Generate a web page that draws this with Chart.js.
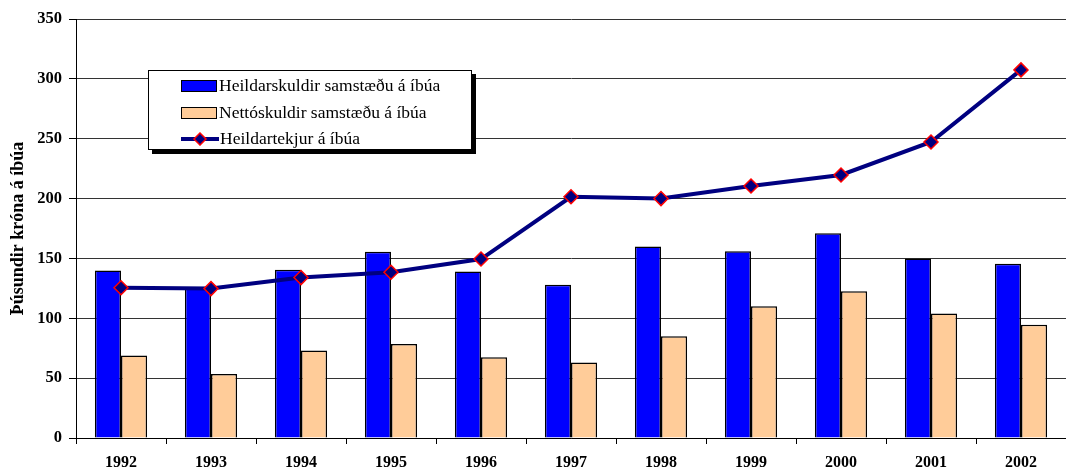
<!DOCTYPE html>
<html>
<head>
<meta charset="utf-8">
<script src="https://cdn.jsdelivr.net/npm/chart.js@4/dist/chart.umd.min.js"></script>
<style>
html,body{margin:0;padding:0;background:#fff;}
#wrap{position:relative;width:1066px;height:471px;}
#legend{position:absolute;left:148px;top:70px;width:322px;height:78px;border:1px solid #000;background:#fff;box-shadow:4px 4px 0 #000;font-family:"Liberation Serif","DejaVu Serif",serif;font-size:17.5px;color:#000;}
.row{position:absolute;left:32px;height:20px;line-height:20px;white-space:nowrap;}
.sw{display:inline-block;width:36px;height:12px;border:1px solid #000;vertical-align:middle;margin-right:2px;position:relative;top:-1px;box-sizing:border-box;}
.ln{display:inline-block;width:38px;height:14px;vertical-align:middle;margin-right:1px;position:relative;top:-1px;}
</style>
</head>
<body>
<div id="wrap">
<canvas id="c" width="1066" height="471"></canvas>
<div id="legend">
  <div class="row" style="top:4px"><span class="sw" style="background:#0000FF"></span>Heildarskuldir samstæðu á íbúa</div>
  <div class="row" style="top:31px"><span class="sw" style="background:#FFCC99"></span>Nettóskuldir samstæðu á íbúa</div>
  <div class="row" style="top:57px"><svg class="ln" viewBox="0 0 38 14"><line x1="0" y1="7" x2="38" y2="7" stroke="#000080" stroke-width="4"/><polygon points="19,1 25,7 19,13 13,7" fill="#000080" stroke="#FF0000" stroke-width="1.5"/></svg>Heildartekjur á íbúa</div>
</div>
</div>
<script>
const categories = ['1992','1993','1994','1995','1996','1997','1998','1999','2000','2001','2002'];
const heildarskuldir = [140, 126, 140.5, 155.5, 139, 128, 160, 156, 171, 150, 145.5];
const nettoskuldir = [69, 53.5, 73, 78.5, 67.5, 63, 85, 110, 122.5, 104, 94.5];
const heildartekjur = [125.5, 124.8, 134, 138.5, 149.5, 201.5, 200, 210.5, 219.7, 247.3, 307.5];
const yTicks = [0, 50, 100, 150, 200, 250, 300, 350];
const seriesNames = ['Heildarskuldir samstæðu á íbúa', 'Nettóskuldir samstæðu á íbúa', 'Heildartekjur á íbúa'];
const yTitle = 'Þúsundir króna á íbúa';

const font = "'Liberation Serif','DejaVu Serif',serif";

new Chart(document.getElementById('c'), {
  data: {
    labels: categories,
    datasets: [
      { type: 'line', label: seriesNames[2], data: heildartekjur, borderColor: '#000080', borderWidth: 4,
        pointStyle: 'rectRot', pointRadius: 7, pointBackgroundColor: '#000080', pointBorderColor: '#FF0000',
        pointBorderWidth: 1.5, tension: 0, order: 0, clip: false },
      { type: 'bar', label: seriesNames[0], data: heildarskuldir, backgroundColor: '#0000FF', borderColor: '#000', borderWidth: 1.5,
        barPercentage: 1, categoryPercentage: 0.58, order: 1 },
      { type: 'bar', label: seriesNames[1], data: nettoskuldir, backgroundColor: '#FFCC99', borderColor: '#000', borderWidth: 1.5,
        barPercentage: 1, categoryPercentage: 0.58, order: 1 }
    ]
  },
  options: {
    responsive: false,
    animation: false,
    layout: { autoPadding: false, padding: { top: 19, right: 0, left: 0, bottom: 0 } },
    plugins: { legend: { display: false }, tooltip: { enabled: false } },
    scales: {
      x: {
        offset: true,
        grid: { offset: true, drawOnChartArea: false, drawTicks: true, tickLength: 6, color: '#000', tickColor: '#000' },
        border: { color: '#000', width: 1 },
        ticks: { color: '#000', font: { family: font, size: 16, weight: 'bold' }, padding: 9, maxRotation: 0 },
        afterFit: s => { s.height = 33; s.paddingRight = 0; s.paddingLeft = 0; }
      },
      y: {
        min: 0, max: 350,
        afterBuildTicks: s => { s.ticks = yTicks.map(v => ({ value: v })); },
        grid: { color: '#333', lineWidth: 1, tickLength: 7, tickColor: '#000' },
        border: { color: '#000', width: 1 },
        ticks: { color: '#000', font: { family: font, size: 16.5, weight: 'bold' }, padding: 7 },
        title: { display: true, text: yTitle, color: '#000', font: { family: font, size: 18, weight: 'bold' }, padding: { top: 8, bottom: 4 } },
        afterFit: s => { s.width = 76; }
      }
    }
  }
});
</script>
</body>
</html>
